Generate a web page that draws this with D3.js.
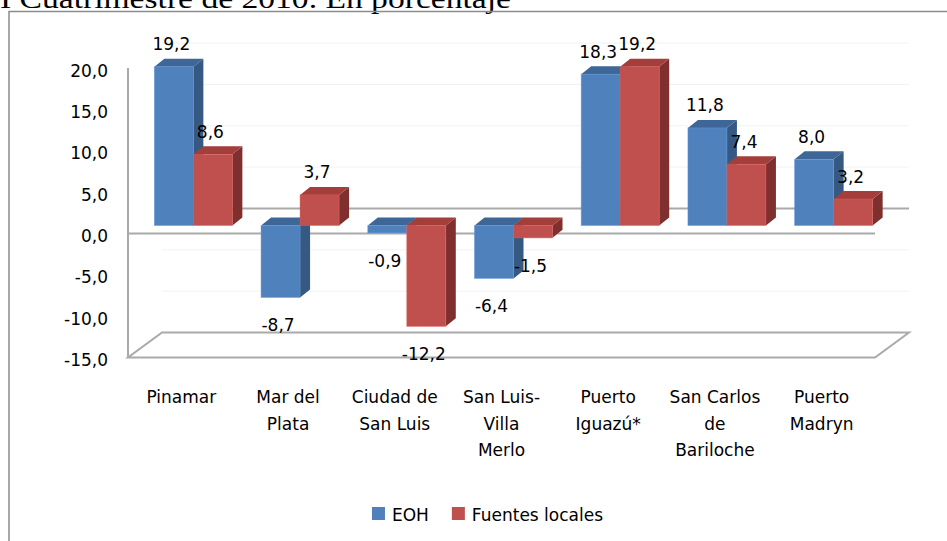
<!DOCTYPE html>
<html>
<head>
<meta charset="utf-8">
<script src="https://cdn.jsdelivr.net/npm/d3@7"></script>
<style>
  html, body { margin: 0; padding: 0; background: #ffffff; }
  svg { display: block; }
</style>
</head>
<body>
<script>
// ---- Data ----
const categories = ["Pinamar", "Mar del\nPlata", "Ciudad de\nSan Luis", "San Luis-\nVilla\nMerlo", "Puerto\nIguazú*", "San Carlos\nde\nBariloche", "Puerto\nMadryn"];
const seriesNames = ["EOH", "Fuentes locales"];
const eohValues = [19.2, -8.7, -0.9, -6.4, 18.3, 11.8, 8.0];
const fuentesValues = [8.6, 3.7, -12.2, -1.5, 19.2, 7.4, 3.2];
const yTickValues = [20, 15, 10, 5, 0, -5, -10, -15];
const titleText = "I Cuatrimestre de 2010. En porcentaje";

// ---- Style ----
const W = 947, H = 541;
const FONT = "'DejaVu Sans', sans-serif";
const colors = {
  "EOH": { front: "#4F81BD", top: "#3E6696", side: "#365983" },
  "Fuentes locales": { front: "#C0504D", top: "#A33E3B", side: "#7F2F2D" }
};
const wall = { dx: 34, dy: -25 };     // depth of the plot box
const shift = { dx: 12, dy: -8 };     // bar position inside the depth
const bdep = { dx: 10, dy: -8 };      // bar depth
const fmt = v => d3.format(".1f")(v).replace(".", ",").replace("\u2212", "-");

const svg = d3.select("body").append("svg").attr("width", W).attr("height", H);

// Title (cut off at top)
svg.append("text").attr("transform", "translate(0,8) scale(1.2,1)")
  .attr("font-family", "'Liberation Serif', 'Times New Roman', serif")
  .attr("font-size", 28).attr("fill", "#000").text(titleText);

// Outer frame
svg.append("rect").attr("x", 9).attr("y", 11.5).attr("width", 960).attr("height", 600)
  .attr("fill", "none").attr("stroke", "#8c8c8c").attr("stroke-width", 1.5);

// Scales
const y = d3.scaleLinear().domain([-15, 20]).range([357.5, 68.1]);
const x0 = d3.scaleBand().domain(categories).range([128, 875]);
const x1 = d3.scaleBand().domain(seriesNames).range([0, x0.bandwidth()]).paddingOuter(0.368).paddingInner(0);

const [xl, xr] = x0.range();
const gridColor = "#aaaaaa";

// back wall faint gridlines
svg.append("g").selectAll("line").data(yTickValues.filter(v => v !== 0 && v !== -15)).join("line")
  .attr("x1", xl + wall.dx).attr("x2", xr + wall.dx)
  .attr("y1", d => y(d) + wall.dy).attr("y2", d => y(d) + wall.dy)
  .attr("stroke", "#f2f2f2").attr("stroke-width", 1);

// back zero line
svg.append("line").attr("x1", xl + wall.dx).attr("x2", xr + wall.dx)
  .attr("y1", y(0) + wall.dy).attr("y2", y(0) + wall.dy)
  .attr("stroke", gridColor).attr("stroke-width", 2);

// floor
const yb = y(-15);
svg.append("polygon")
  .attr("points", [[xl, yb], [xr, yb], [xr + wall.dx, yb + wall.dy], [xl + wall.dx, yb + wall.dy]].map(p => p.join(",")).join(" "))
  .attr("fill", "none").attr("stroke", gridColor).attr("stroke-width", 2);

// front zero line
svg.append("line").attr("x1", xl).attr("x2", xr).attr("y1", y(0)).attr("y2", y(0))
  .attr("stroke", gridColor).attr("stroke-width", 2);

// vertical axis line
svg.append("line").attr("x1", xl).attr("x2", xl).attr("y1", y(20)).attr("y2", y(-15))
  .attr("stroke", gridColor).attr("stroke-width", 2);

// y tick labels
svg.append("g").selectAll("text").data(yTickValues).join("text")
  .attr("x", 108).attr("y", d => y(d) + 8.5)
  .attr("text-anchor", "end").attr("font-family", FONT).attr("font-size", 17)
  .attr("fill", "#000").text(d => fmt(d));

// Bars
const rows = [];
categories.forEach((c, i) => {
  rows.push({ cat: c, s: seriesNames[0], v: eohValues[i] });
  rows.push({ cat: c, s: seriesNames[1], v: fuentesValues[i] });
});

const bw = x1.bandwidth();
const gBars = svg.append("g");
rows.forEach(d => {
  const x = x0(d.cat) + x1(d.s) + shift.dx;
  const ya = y(0) + shift.dy, yv = y(d.v) + shift.dy;
  const top = Math.min(ya, yv), bot = Math.max(ya, yv);
  const col = colors[d.s];
  const g = gBars.append("g");
  // side
  g.append("polygon")
    .attr("points", [[x + bw, top], [x + bw + bdep.dx, top + bdep.dy], [x + bw + bdep.dx, bot + bdep.dy], [x + bw, bot]].map(p => p.join(",")).join(" "))
    .attr("fill", col.side);
  // top
  g.append("polygon")
    .attr("points", [[x, top], [x + bdep.dx, top + bdep.dy], [x + bw + bdep.dx, top + bdep.dy], [x + bw, top]].map(p => p.join(",")).join(" "))
    .attr("fill", col.top);
  // front
  g.append("rect").attr("x", x).attr("y", top).attr("width", bw).attr("height", bot - top)
    .attr("fill", col.front).attr("stroke", d3.color(col.front).brighter(0.4)).attr("stroke-width", 0.8).attr("stroke-opacity", 0.6);
});

// data labels (on top of bars)
const gLab = svg.append("g");
rows.forEach(d => {
  const x = x0(d.cat) + x1(d.s) + shift.dx;
  const yv = y(d.v) + shift.dy;
  const cx = x + bw / 2 - 2.5;
  const ty = d.v >= 0 ? yv - 16.5 : yv + 34;
  gLab.append("text").attr("x", cx).attr("y", ty)
    .attr("text-anchor", "middle").attr("font-family", FONT).attr("font-size", 17)
    .attr("fill", "#000").text(fmt(d.v));
});

// category labels
const gCat = svg.append("g");
categories.forEach(c => {
  const cx = x0(c) + x0.bandwidth() / 2;
  const t = gCat.append("text").attr("text-anchor", "middle")
    .attr("font-family", FONT).attr("font-size", 17).attr("fill", "#000");
  c.split("\n").forEach((line, k) => {
    t.append("tspan").attr("x", cx).attr("y", 403 + k * 26.5).text(line);
  });
});

// legend
const gLeg = svg.append("g");
const sq = 13, gapSq = 7, gapItem = 23;
let lx = 0;
seriesNames.forEach(s => {
  gLeg.append("rect").attr("x", lx).attr("y", 507).attr("width", sq).attr("height", sq).attr("fill", colors[s].front);
  const t = gLeg.append("text").attr("x", lx + sq + gapSq).attr("y", 521)
    .attr("font-family", FONT).attr("font-size", 17).attr("fill", "#000").text(s);
  const w = t.node().getComputedTextLength();
  lx += sq + gapSq + w + gapItem;
});
const totalW = lx - gapItem;
gLeg.attr("transform", `translate(${487.5 - totalW / 2},0)`);
</script>
</body>
</html>
